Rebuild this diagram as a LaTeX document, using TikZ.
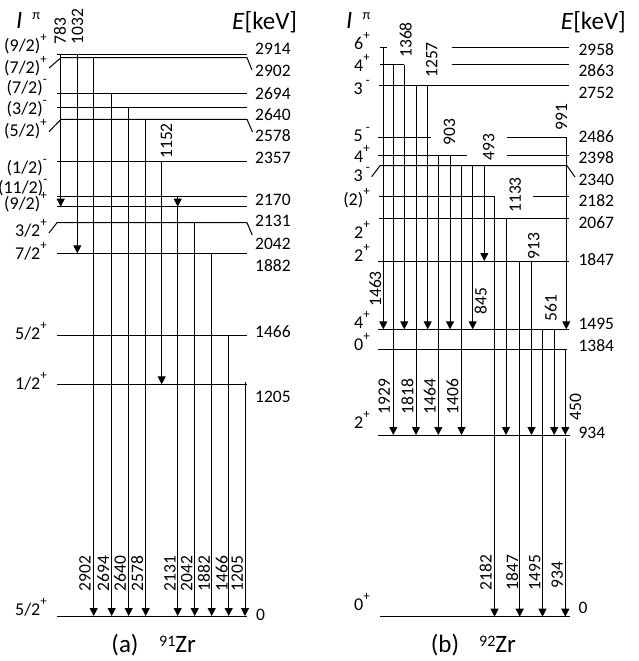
\documentclass[tikz,border=0pt]{standalone}
\usepackage{fontspec}
\setmainfont{Carlito}
\usetikzlibrary{arrows.meta}
\newcommand{\sps}[1]{\raisebox{10pt}{\fontsize{13}{13}\selectfont #1}}
\newcommand{\hdrpi}{\hspace{10pt}\raisebox{8.5pt}{\fontsize{14}{14}\selectfont π}}
\begin{document}
\begin{tikzpicture}[x=1pt,y=-1pt,
  lvl/.style={line width=1pt},
  tr/.style={line width=1pt,-{Triangle[length=8pt,width=8pt]}},
  num/.style={font=\fontsize{17.5}{17.5}\selectfont,inner sep=0pt},
  rnum/.style={num,rotate=90},
  elab/.style={num,anchor=west},
  spin/.style={font=\fontsize{18}{18}\selectfont,inner sep=0pt,anchor=base east},
  head/.style={font=\fontsize{25}{25}\selectfont,inner sep=0pt,anchor=base west}]
\useasboundingbox (0,0) rectangle (639,661);

% ================= panel (a) =================
\node[head,text depth=0pt] (Ia) at (16,28.5) {\textit{I}\hdrpi};
\node[head] (Ea) at (232,30) {\textit{E}[keV]};

% levels
\draw[lvl] (57,54.3) -- (247,54.3);
\draw[lvl] (49,68) -- (61,57.7) -- (247,57.7) -- (252,70);
\draw[lvl] (57,93.3) -- (247,93.3);
\draw[lvl] (57,107.7) -- (247,107.7);
\draw[lvl] (49,131.7) -- (61,119.3) -- (247,119.3) -- (252.5,132);
\draw[lvl] (57,161) -- (247,161);
\draw[lvl] (57,196.7) -- (247,196.7);
\draw[lvl] (57,206.7) -- (247,206.7);
\draw[lvl] (49,233) -- (57,222.7) -- (247,222.7) -- (252.3,235);
\draw[lvl] (57,253.3) -- (247,253.3);
\draw[lvl] (57,335) -- (247,335);
\draw[lvl] (57,384.3) -- (247,384.3);
\draw[lvl] (57,616) -- (247,616);

% spins
\node[spin] (sa1) at (47,51.6) {(9/2)\sps{+}};
\node[spin] (sa2) at (47,73.3) {(7/2)\sps{+}};
\node[spin] (sa3) at (47,93.3) {(7/2)\sps{-}};
\node[spin] (sa4) at (47,114.6) {(3/2)\sps{-}};
\node[spin] (sa5) at (47,136.6) {(5/2)\sps{+}};
\node[spin] (sa6) at (47,173.3) {(1/2)\sps{-}};
\node[spin] (sa7) at (47.5,193.3) {(11/2)\sps{-}};
\node[spin] (sa8) at (47,209.6) {(9/2)\sps{+}};
\node[spin] (sa9) at (47,236) {3/2\sps{+}};
\node[spin] (sa10) at (47,259) {7/2\sps{+}};
\node[spin] (sa11) at (47,339) {5/2\sps{+}};
\node[spin] (sa12) at (47,389) {1/2\sps{+}};
\node[spin] (sa13) at (47,615) {5/2\sps{+}};

% energies
\node[elab] (ea1) at (255,49.2) {2914};
\node[elab] (ea2) at (255,70.8) {2902};
\node[elab] (ea3) at (255,93.2) {2694};
\node[elab] (ea4) at (255,114.2) {2640};
\node[elab] (ea5) at (255,135.8) {2578};
\node[elab] (ea6) at (255,157.5) {2357};
\node[elab] (ea7) at (255,200.2) {2170};
\node[elab] (ea8) at (255,220.8) {2131};
\node[elab] (ea9) at (255,244.2) {2042};
\node[elab] (ea10) at (255,265.8) {1882};
\node[elab] (ea11) at (255,331.8) {1466};
\node[elab] (ea12) at (255,396.5) {1205};
\node[elab] (ea13) at (256,614.7) {0};

% transitions
\draw[tr] (60.7,54.3) -- (60.7,206.7);
\draw[tr] (77.3,54.3) -- (77.3,253.3);
\draw[tr] (93.7,57.7) -- (93.7,616);
\draw[tr] (111.7,93.3) -- (111.7,616);
\draw[tr] (128.7,107.7) -- (128.7,616);
\draw[tr] (145.7,119.3) -- (145.7,616);
\draw[tr] (161.7,161) -- (161.7,384.3);
\draw[tr] (177.7,195.5) -- (177.7,206.7);
\draw[tr] (177.7,206.7) -- (177.7,616);
\draw[tr] (194.7,222.7) -- (194.7,616);
\draw[tr] (211.7,253.3) -- (211.7,616);
\draw[tr] (228.7,335) -- (228.7,616);
\draw[tr] (245,382) -- (245,616);

% transition labels
\node[rnum] (ga1) at (60,30.8) {783};
\node[rnum] (ga2) at (77.5,26.7) {1032};
\node[rnum] (ga3) at (166.5,141) {1152};
\node[rnum] (ga4) at (85,573.3) {2902};
\node[rnum] (ga5) at (103.3,573.3) {2694};
\node[rnum] (ga6) at (120,573.3) {2640};
\node[rnum] (ga7) at (137.3,573.3) {2578};
\node[rnum] (ga8) at (170,573.3) {2131};
\node[rnum] (ga9) at (186.7,573.3) {2042};
\node[rnum] (ga10) at (204,573.3) {1882};
\node[rnum] (ga11) at (221.7,573.3) {1466};
\node[rnum] (ga12) at (237.3,573.3) {1205};

\node[head,anchor=base] (capa) at (125,652) {(a)};
\node[head] (za) at (159,652) {\raisebox{6pt}{\fontsize{16}{16}\selectfont 91}Zr};

% ================= panel (b) =================
\node[head,text depth=0pt] (Ib) at (346,28.5) {\textit{I}\hdrpi};
\node[head] (Eb) at (560.7,30) {\textit{E}[keV]};

% levels
\draw[lvl] (380,47.3) -- (386.7,47.3);
\draw[lvl] (451.7,47.3) -- (569.3,47.3);
\draw[lvl] (380,65) -- (404.3,65);
\draw[lvl] (451.7,65) -- (569.3,65);
\draw[lvl] (379,85.7) -- (569.3,85.7);
\draw[lvl] (378.3,137.5) -- (431,137.5);
\draw[lvl] (507,137.5) -- (566.7,137.5);
\draw[lvl] (378.3,155) -- (467,155);
\draw[lvl] (507,155) -- (569.3,155);
\draw[lvl] (371.7,176.7) -- (380,165.7) -- (567,165.7) -- (575,177);
\draw[lvl] (379,196.7) -- (495,196.7);
\draw[lvl] (533.3,196.7) -- (569.3,196.7);
\draw[lvl] (379,218.3) -- (569.3,218.3);
\draw[lvl] (378.3,261) -- (569.3,261);
\draw[lvl] (378.3,329.3) -- (569.3,329.3);
\draw[lvl] (378.3,349) -- (566.7,349);
\draw[lvl] (378.3,435) -- (570,435);
\draw[lvl] (380,616.7) -- (570,616.7);

% spins
\node[spin] (sb1) at (370,50) {6\sps{+}};
\node[spin] (sb2) at (370,71.7) {4\sps{+}};
\node[spin] (sb3) at (370,95) {3\,\sps{-}};
\node[spin] (sb4) at (370,141.7) {5\,\sps{-}};
\node[spin] (sb5) at (370,162.3) {4\sps{+}};
\node[spin] (sb6) at (370,181.7) {3\,\sps{-}};
\node[spin] (sb7) at (370,205) {(2)\sps{+}};
\node[spin] (sb8) at (370,238.3) {2\sps{+}};
\node[spin] (sb9) at (370,261.7) {2\sps{+}};
\node[spin] (sb10) at (370,328.3) {4\sps{+}};
\node[spin] (sb11) at (370,350) {0\sps{+}};
\node[spin] (sb12) at (370,428.3) {2\sps{+}};
\node[spin] (sb13) at (370,610) {0\sps{+}};

% energies
\node[elab] (eb1) at (578.3,49.2) {2958};
\node[elab] (eb2) at (578.3,70.8) {2863};
\node[elab] (eb3) at (578.3,92.5) {2752};
\node[elab] (eb4) at (578.3,136.5) {2486};
\node[elab] (eb5) at (578.3,157.5) {2398};
\node[elab] (eb6) at (578.3,179.8) {2340};
\node[elab] (eb7) at (578.3,200.8) {2182};
\node[elab] (eb8) at (578.3,222.5) {2067};
\node[elab] (eb9) at (578.3,260) {1847};
\node[elab] (eb10) at (578.3,324.2) {1495};
\node[elab] (eb11) at (578.3,345.8) {1384};
\node[elab] (eb12) at (578.3,433.2) {934};
\node[elab] (eb13) at (578.3,607.5) {0};

% transitions
\draw[tr] (383.3,47.3) -- (383.3,329.3);
\draw[tr] (393.3,65) -- (393.3,435);
\draw[tr] (404.3,65) -- (404.3,329.3);
\draw[tr] (416,85.7) -- (416,435);
\draw[tr] (427.7,85.7) -- (427.7,329.3);
\draw[tr] (438.3,155) -- (438.3,435);
\draw[tr] (450,155) -- (450,329.3);
\draw[tr] (461.5,165.7) -- (461.5,435);
\draw[tr] (472.7,165.7) -- (472.7,329.3);
\draw[tr] (484.3,165.7) -- (484.3,261);
\draw[tr] (494.5,196.7) -- (494.5,616.7);
\draw[tr] (506,218.3) -- (506,435);
\draw[tr] (519.7,261) -- (519.7,616.7);
\draw[tr] (531.5,261) -- (531.5,435);
\draw[tr] (542.5,329.3) -- (542.5,616.7);
\draw[tr] (554.2,329.3) -- (554.2,435);
\draw[tr] (566.3,137.5) -- (566.3,329.3);
\draw[tr] (565.3,349) -- (565.3,435);
\draw[tr] (565.3,438) -- (565.3,616.7);

% transition labels
\node[rnum] (gb1) at (405.8,40) {1368};
\node[rnum] (gb2) at (431.7,60) {1257};
\node[rnum] (gb3) at (449.5,131.7) {903};
\node[rnum] (gb4) at (488.7,146.7) {493};
\node[rnum] (gb5) at (561.5,117) {991};
\node[rnum] (gb6) at (515.3,195) {1133};
\node[rnum] (gb7) at (533.8,245.8) {913};
\node[rnum] (gb8) at (375.3,289) {1463};
\node[rnum] (gb9) at (480.8,300.8) {845};
\node[rnum] (gb10) at (550.8,308.3) {561};
\node[rnum] (gb11) at (384.2,396.7) {1929};
\node[rnum] (gb12) at (407.5,396.7) {1818};
\node[rnum] (gb13) at (429.8,396.7) {1464};
\node[rnum] (gb14) at (452.5,396.7) {1406};
\node[rnum] (gb15) at (575.5,406.7) {450};
\node[rnum] (gb16) at (485.8,572.5) {2182};
\node[rnum] (gb17) at (512.2,572.5) {1847};
\node[rnum] (gb18) at (534.8,572.5) {1495};
\node[rnum] (gb19) at (557.2,575) {934};

\node[head,anchor=base] (capb) at (445,652) {(b)};
\node[head] (zb) at (479,652) {\raisebox{6pt}{\fontsize{16}{16}\selectfont 92}Zr};
\end{tikzpicture}
\end{document}
